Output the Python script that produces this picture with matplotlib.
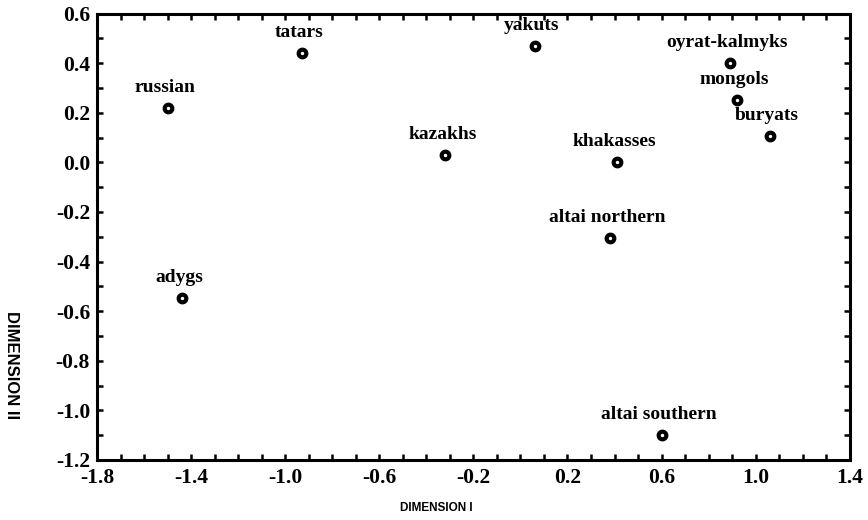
import matplotlib
matplotlib.use("Agg")
import matplotlib.pyplot as plt
from matplotlib.ticker import MultipleLocator

# coordinates
names = ["russian", "tatars", "yakuts", "oyrat-kalmyks", "mongols", "buryats",
         "kazakhs", "khakasses", "altai northern", "adygs", "altai southern"]
dim1 = [-1.50, -0.93, 0.06, 0.89, 0.92, 1.06, -0.32, 0.41, 0.38, -1.44, 0.60]
dim2 = [0.22, 0.44, 0.47, 0.40, 0.25, 0.105, 0.03, 0.003, -0.305, -0.545, -1.10]

xticks = [-1.8, -1.4, -1.0, -0.6, -0.2, 0.2, 0.6, 1.0, 1.4]
yticks = [-1.2, -1.0, -0.8, -0.6, -0.4, -0.2, 0.0, 0.2, 0.4, 0.6]

fig = plt.figure(figsize=(8.68, 5.2), dpi=100)
ax = fig.add_axes([0.1118, 0.1154, 0.979 - 0.1118, 0.974 - 0.1154])

ax.plot(dim1, dim2, "o", linestyle="none", markersize=5.5, markerfacecolor="white",
        markeredgecolor="black", markeredgewidth=3)
for n, x, y in zip(names, dim1, dim2):
    ax.annotate(n, (x, y), xytext=(-2, 11.5), textcoords="offset points",
                ha="center", va="baseline", family="Liberation Serif",
                weight="bold", fontsize=14, color="black")

ax.set_xlim(-1.8, 1.4)
ax.set_ylim(-1.2, 0.6)
ax.set_xticks(xticks, [f"{v:.1f}" for v in xticks])
ax.set_yticks(yticks, [f"{v:.1f}" for v in yticks])
ax.xaxis.set_minor_locator(MultipleLocator(0.1))
ax.yaxis.set_minor_locator(MultipleLocator(0.1))
ax.tick_params(which="both", direction="in", length=4, width=1.8,
               top=True, right=True)
ax.tick_params(axis="x", which="major", pad=6)
ax.tick_params(axis="y", which="major", pad=5)
for lab in ax.get_xticklabels() + ax.get_yticklabels():
    lab.set_family("Liberation Serif")
    lab.set_weight("bold")
    lab.set_fontsize(15.5)
for s in ax.spines.values():
    s.set_linewidth(2.2)

fig.text(436 / 868, 1 - 508 / 520, "DIMENSION I", ha="center", va="center",
         family="Liberation Sans", weight="bold", fontsize=8.5)
fig.text(11 / 868, 1 - 365 / 520, "DIMENSION II", ha="center", va="center",
         rotation=-90, family="Liberation Sans", weight="bold", fontsize=12)

fig.savefig("out.png", dpi=100)
